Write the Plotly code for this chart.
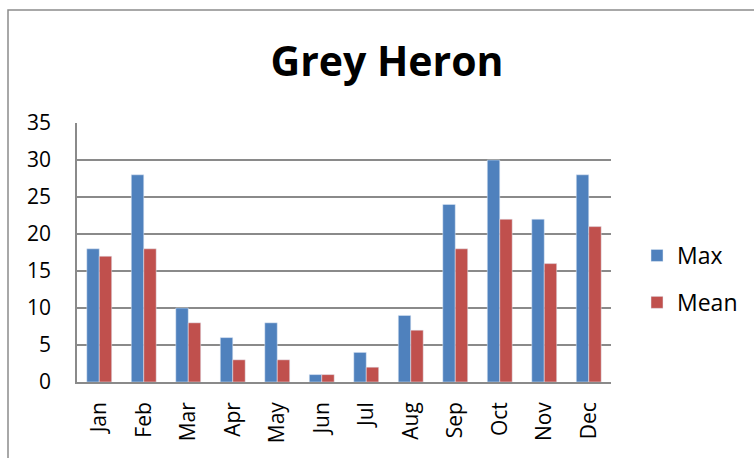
import plotly.graph_objects as go

months = ["Jan", "Feb", "Mar", "Apr", "May", "Jun", "Jul", "Aug", "Sep", "Oct", "Nov", "Dec"]
max_vals = [18, 28, 10, 6, 8, 1, 4, 9, 24, 30, 22, 28]
mean_vals = [17, 18, 8, 3, 3, 1, 2, 7, 18, 22, 16, 21]
y_ticks = [0, 5, 10, 15, 20, 25, 30, 35]

W, H = 754, 458
L, R, T, B = 77, 143, 123, 76
pw, ph = W - L - R, H - T - B

def px_x(x):
    return (x - L) / pw

def px_y(y):
    return (H - B - y) / ph

font_family = "Open Sans"

fig = go.Figure()
fig.add_trace(go.Bar(x=months, y=max_vals, name="Max", marker_color="#4F81BD",
                     legendgroup="a"))
fig.add_trace(go.Bar(x=months, y=mean_vals, name="Mean", marker_color="#C0504D",
                     legendgroup="b"))

fig.update_layout(
    width=W, height=H,
    margin=dict(l=L, r=R, t=T, b=B, autoexpand=False),
    paper_bgcolor="white", plot_bgcolor="white",
    barmode="group", bargap=0.44, bargroupgap=0,
    font=dict(family=font_family, color="black", size=21),
    title=dict(text="<b>Grey Heron</b>", x=387 / W, xanchor="center",
               y=1 - 62 / H, yanchor="middle",
               font=dict(family=font_family, size=41, color="black")),
    showlegend=True,
    legend=dict(x=px_x(637), y=px_y(279), xanchor="left", yanchor="middle",
                font=dict(size=23, family=font_family), traceorder="grouped",
                tracegroupgap=14, bgcolor="rgba(0,0,0,0)", itemwidth=30),
    xaxis=dict(tickangle=-90, showline=True, linecolor="#8a8a8a", linewidth=1.5,
               showgrid=False, ticks="", ticklabelstandoff=10,
               tickfont=dict(size=21, family=font_family)),
    yaxis=dict(range=[0, 35], tickvals=y_ticks, showline=True, linecolor="#8a8a8a",
               linewidth=1.5, showgrid=True, gridcolor="#8a8a8a", gridwidth=1.5,
               ticks="", ticklabelstandoff=20, zeroline=False,
               tickfont=dict(size=21, family=font_family)),
    shapes=[dict(type="rect", xref="paper", yref="paper",
                 x0=px_x(8), x1=px_x(770), y0=px_y(480), y1=px_y(10),
                 line=dict(color="#8c8c8c", width=1.5), fillcolor="rgba(0,0,0,0)",
                 layer="below")],
)

fig.write_html("out.html", config={"displayModeBar": False},
               post_script="document.body.style.margin='0px';document.body.style.overflow='hidden';")
